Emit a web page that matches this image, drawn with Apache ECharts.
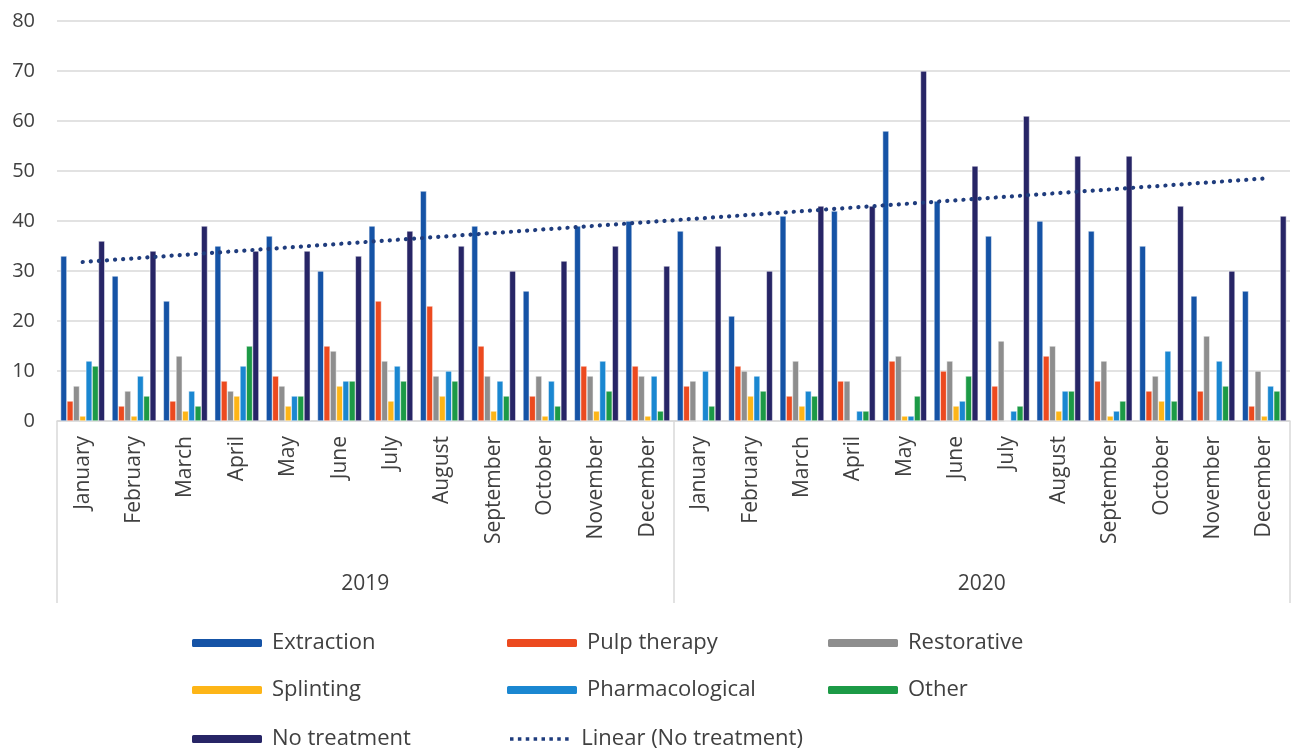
<!DOCTYPE html>
<html><head><meta charset="utf-8">
<script src="https://cdn.jsdelivr.net/npm/echarts@6/dist/echarts.min.js"></script>
<style>html,body{margin:0;padding:0;background:#fff}#c{width:1291px;height:750px}</style>
</head><body><div id="c"></div>
<script>
const months = ['January','February','March','April','May','June','July','August','September','October','November','December'];
const categories = months.concat(months);
const years = ['2019','2020'];
const yTicks = [0,10,20,30,40,50,60,70,80];

const extraction      = [33,29,24,35,37,30,39,46,39,26,39,40, 38,21,41,42,58,44,37,40,38,35,25,26];
const pulpTherapy     = [4,3,4,8,9,15,24,23,15,5,11,11, 7,11,5,8,12,10,7,13,8,6,6,3];
const restorative     = [7,6,13,6,7,14,12,9,9,9,9,9, 8,10,12,8,13,12,16,15,12,9,17,10];
const splinting       = [1,1,2,5,3,7,4,5,2,1,2,1, 0,5,3,0,1,3,0,2,1,4,0,1];
const pharmacological = [12,9,6,11,5,8,11,10,8,8,12,9, 10,9,6,2,1,4,2,6,2,14,12,7];
const other           = [11,5,3,15,5,8,8,8,5,3,6,2, 3,6,5,2,5,9,3,6,4,4,7,6];
const noTreatment     = [36,34,39,34,34,33,38,35,30,32,35,31, 35,30,43,43,70,51,61,53,53,43,30,41];
// Linear trend of No treatment, endpoints (first and last month)
const trendStart = 31.8;
const trendEnd = 48.5;

const FONT = '"Open Sans", "Liberation Sans", sans-serif';
const TXT = '#404040';
const TREND = '#1F3C7D';

const barDefs = [
  ['Extraction', extraction, '#1553A6'],
  ['Pulp therapy', pulpTherapy, '#EC4A1F'],
  ['Restorative', restorative, '#8E8E8E'],
  ['Splinting', splinting, '#FDB517'],
  ['Pharmacological', pharmacological, '#1A87D1'],
  ['Other', other, '#1C9A46'],
  ['No treatment', noTreatment, '#272566']
];

const series = barDefs.map(d => ({
  name: d[0], type: 'bar', data: d[1], xAxisIndex: 0,
  barGap: '0%', barCategoryGap: '14%',
  itemStyle: { color: d[2], borderColor: '#ffffff', borderWidth: 0.5 },
  emphasis: { disabled: true }
}));
series.push({
  name: 'Linear (No treatment)', type: 'line', xAxisIndex: 0,
  data: [[0, trendStart], [categories.length - 1, trendEnd]],
  symbol: 'none', silent: true, z: 5,
  lineStyle: { color: TREND, width: 4.2, type: [0.1, 8], cap: 'round' },
  itemStyle: { color: TREND }
});

// dotted legend icon
let dots = '';
for (let i = 0; i < 8; i++) { const x = i * 9; dots += 'M' + x + ',0h4v4h-' + 4 + 'z'; }
const dotIcon = 'path://' + dots;

const legendPos = [
  ['Extraction', 190, 641], ['Pulp therapy', 505, 641], ['Restorative', 826, 641],
  ['Splinting', 190, 688], ['Pharmacological', 505, 688], ['Other', 826, 688],
  ['No treatment', 190, 737], ['Linear (No treatment)', 510, 737]
];
const legends = legendPos.map(p => {
  const isTrend = p[0].indexOf('Linear') === 0;
  return {
    data: [isTrend ? { name: p[0], icon: dotIcon } : p[0]],
    left: p[1], top: p[2] - 10, padding: 0,
    itemWidth: isTrend ? 66 : 72, itemHeight: isTrend ? 3.5 : 10,
    itemGap: 10, selectedMode: false,
    textStyle: { fontFamily: FONT, fontSize: 22, color: TXT, lineHeight: 24,
                 padding: isTrend ? [0, 0, 0, 4] : [0, 0, 0, 4] }
  };
});

const chart = echarts.init(document.getElementById('c'), null, { renderer: 'canvas' });
chart.setOption({
  animation: false,
  backgroundColor: '#ffffff',
  grid: { left: 57, right: 1, top: 21, bottom: 329, containLabel: false },
  legend: legends,
  xAxis: [
    {
      type: 'category', data: categories, position: 'bottom',
      axisLine: { show: true, lineStyle: { color: '#d9d9d9', width: 1.5 } },
      axisTick: { show: false },
      axisLabel: { interval: 0, rotate: 90, margin: 15, fontFamily: FONT, fontSize: 21, color: TXT }
    },
    {
      type: 'category', data: years, position: 'bottom',
      axisLine: { show: false },
      axisTick: { show: true, length: 182, lineStyle: { color: '#d9d9d9', width: 1.5 } },
      axisLabel: { interval: 0, margin: 153, fontFamily: FONT, fontSize: 21, color: TXT }
    }
  ],
  yAxis: {
    type: 'value', min: yTicks[0], max: yTicks[yTicks.length - 1], interval: 10,
    axisLine: { show: false }, axisTick: { show: false },
    axisLabel: { margin: 22, fontFamily: FONT, fontSize: 20, color: TXT },
    splitLine: { lineStyle: { color: '#d9d9d9', width: 1.5 } }
  },
  series: series
});
</script>
</body></html>
